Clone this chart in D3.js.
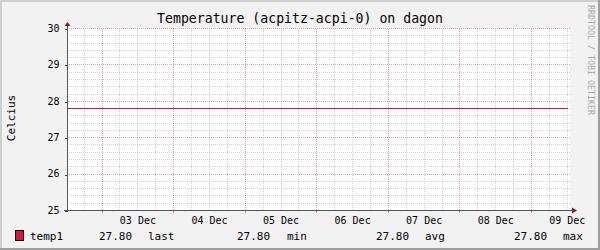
<!DOCTYPE html>
<html>
<head>
<meta charset="utf-8">
<script src="https://cdn.jsdelivr.net/npm/d3@7"></script>
<style>
  body { margin: 0; background: #fff; }
  svg text { font-family: "DejaVu Sans Mono", monospace; }
</style>
</head>
<body>
<div id="chart"></div>
<script>
// rrd style temperature graph, one week
const title = "Temperature (acpitz-acpi-0) on dagon";
const yLabel = "Celcius";
const seriesName = "temp1";
const times = ["2010-12-02T12:24Z", "2010-12-03T12:24Z", "2010-12-04T12:24Z", "2010-12-05T12:24Z",
               "2010-12-06T12:24Z", "2010-12-07T12:24Z", "2010-12-08T12:24Z", "2010-12-09T12:24Z"];
const temp1 = [27.8, 27.8, 27.8, 27.8, 27.8, 27.8, 27.8, 27.8];
const yDomain = [25, 30];

const W = 600, H = 250;
const plot = {left: 67, right: 568, top: 28, bottom: 210};

const data = times.map((t, i) => ({t: new Date(t), v: temp1[i]}));

const x = d3.scaleUtc()
    .domain(d3.extent(data, d => d.t))
    .range([plot.left, plot.right]);
const y = d3.scaleLinear()
    .domain(yDomain)
    .range([plot.bottom, plot.top]);

const svg = d3.select('#chart').append('svg')
    .attr('width', W)
    .attr('height', H);

// background + shaded frame
svg.append('rect').attr('width', W).attr('height', H).attr('fill', '#f2f2f2');
svg.append('path').attr('d', `M0,${H} V0 H${W} V2 H2 V${H - 2} H0 Z`).attr('fill', '#cfcfcf');
svg.append('path').attr('d', `M${W},0 V${H} H0 V${H - 2} H${W - 2} V0 Z`).attr('fill', '#9e9e9e');

// canvas
svg.append('rect')
    .attr('x', plot.left).attr('y', plot.top)
    .attr('width', plot.right - plot.left + 2).attr('height', plot.bottom - plot.top)
    .attr('fill', '#fff');

const grid = svg.append('g').attr('shape-rendering', 'crispEdges');
const minorCol = 'rgba(143,143,143,0.4)';
const majorCol = 'rgba(222,79,79,0.55)';

const [t0, t1] = x.domain();
const yMinor = y.ticks(25);
const yMajor = y.ticks(5);
const xMinor = d3.utcHour.every(6).range(t0, t1);
const xMajor = d3.utcDay.range(t0, t1);
const xLabels = d3.utcDay.range(d3.utcHour.offset(t0, -12), t1).map(d => d3.utcHour.offset(d, 12));

grid.selectAll('.hmin').data(yMinor.filter(v => v % 1 !== 0)).enter()
    .append('line')
    .attr('x1', plot.left).attr('x2', plot.right + 2)
    .attr('y1', d => Math.round(y(d)) + 0.5).attr('y2', d => Math.round(y(d)) + 0.5)
    .attr('stroke', minorCol).attr('stroke-dasharray', '1,1');
grid.selectAll('.vmin').data(xMinor.filter(d => d.getUTCHours() !== 0)).enter()
    .append('line')
    .attr('x1', d => Math.round(x(d)) + 0.5).attr('x2', d => Math.round(x(d)) + 0.5)
    .attr('y1', plot.bottom).attr('y2', plot.top)
    .attr('stroke', minorCol).attr('stroke-dasharray', '1,1');
grid.selectAll('.hmaj').data(yMajor.filter(v => v > yDomain[0])).enter()
    .append('line')
    .attr('x1', plot.left).attr('x2', plot.right + 2)
    .attr('y1', d => Math.round(y(d)) + 0.5).attr('y2', d => Math.round(y(d)) + 0.5)
    .attr('stroke', majorCol).attr('stroke-dasharray', '1,1');
grid.selectAll('.vmaj').data(xMajor).enter()
    .append('line')
    .attr('x1', d => Math.round(x(d)) + 0.5).attr('x2', d => Math.round(x(d)) + 0.5)
    .attr('y1', plot.bottom + 2).attr('y2', plot.top)
    .attr('stroke', majorCol).attr('stroke-dasharray', '1,1');

// data line
const lineColor = '#dc143c';
svg.append('path')
    .datum(data)
    .attr('fill', 'none')
    .attr('stroke', lineColor)
    .attr('stroke-width', 1)
    .attr('shape-rendering', 'crispEdges')
    .attr('d', d3.line().x(d => x(d.t)).y(d => Math.round(y(d.v)) + 0.5));

// axes
const yAxis = svg.append('g')
    .attr('transform', `translate(${plot.left + 0.5},0)`)
    .call(d3.axisLeft(y).tickValues(yMajor).tickSize(3).tickPadding(5).tickFormat(d3.format('d')));
yAxis.select('.domain').remove();
yAxis.selectAll('line').attr('stroke', '#444').attr('shape-rendering', 'crispEdges')
    .attr('transform', d => `translate(0,${Math.round(y(d)) + 0.5 - y(d)})`);
yAxis.selectAll('text').attr('font-size', 10).attr('fill', '#000').attr('font-family', '"DejaVu Sans Mono", monospace');

const xTicks = svg.append('g')
    .attr('transform', `translate(0,${plot.bottom + 0.5})`)
    .call(d3.axisBottom(x).tickValues(xMajor).tickSize(2).tickFormat(''));
xTicks.select('.domain').remove();
xTicks.selectAll('line').attr('stroke', majorCol).attr('shape-rendering', 'crispEdges');

const xAxis = svg.append('g')
    .attr('transform', `translate(0,${plot.bottom})`)
    .call(d3.axisBottom(x).tickValues(xLabels).tickSize(0).tickPadding(6.4)
        .tickFormat(d3.utcFormat('%d %b')));
xAxis.select('.domain').remove();
xAxis.selectAll('text').attr('font-size', 10).attr('fill', '#000').attr('font-family', '"DejaVu Sans Mono", monospace');

// axis lines + arrows
svg.append('line')
    .attr('x1', plot.left + 0.5).attr('x2', plot.left + 0.5)
    .attr('y1', plot.bottom + 1).attr('y2', plot.top - 2)
    .attr('stroke', '#555').attr('shape-rendering', 'crispEdges');
svg.append('line')
    .attr('x1', plot.left - 3).attr('x2', plot.right + 4)
    .attr('y1', plot.bottom + 0.5).attr('y2', plot.bottom + 0.5)
    .attr('stroke', '#555').attr('shape-rendering', 'crispEdges');
const arrowCol = '#801f1f';
svg.append('path')
    .attr('d', `M${plot.left - 2.5},${plot.top - 2} L${plot.left + 3.5},${plot.top - 2} L${plot.left + 0.5},${plot.top - 6} Z`)
    .attr('fill', arrowCol);
svg.append('path')
    .attr('d', `M${plot.right + 4},${plot.bottom - 2.5} L${plot.right + 4},${plot.bottom + 3.5} L${plot.right + 9},${plot.bottom + 0.5} Z`)
    .attr('fill', arrowCol);

// title and labels
svg.append('text')
    .attr('x', 300).attr('y', 23)
    .attr('text-anchor', 'middle')
    .attr('font-size', 13.2)
    .attr('fill', '#000')
    .text(title);

svg.append('text')
    .attr('transform', 'translate(14.5,118) rotate(-90)')
    .attr('text-anchor', 'middle')
    .attr('font-size', 11)
    .text(yLabel);

svg.append('text')
    .attr('transform', 'translate(588,5) rotate(90)')
    .attr('font-size', 8.3)
    .attr('fill', '#a8a8a8')
    .text('RRDTOOL / TOBI OETIKER');

// legend
const fmt = d3.format('.2f');
const vals = data.map(d => d.v);
const legendItems = [
  {x: 99, text: fmt(vals[vals.length - 1])}, {x: 148, text: 'last'},
  {x: 237, text: fmt(d3.min(vals))}, {x: 287, text: 'min'},
  {x: 376, text: fmt(d3.mean(vals))}, {x: 425, text: 'avg'},
  {x: 514, text: fmt(d3.max(vals))}, {x: 563, text: 'max'}
];
svg.append('rect')
    .attr('x', 15.5).attr('y', 230.5)
    .attr('width', 8).attr('height', 10)
    .attr('fill', lineColor).attr('stroke', '#000');
svg.append('text')
    .attr('x', 30).attr('y', 240)
    .attr('font-size', 11)
    .text(seriesName);
svg.selectAll('.leg').data(legendItems).enter()
    .append('text')
    .attr('x', d => d.x).attr('y', 240)
    .attr('font-size', 11)
    .text(d => d.text);
</script>
</body>
</html>
